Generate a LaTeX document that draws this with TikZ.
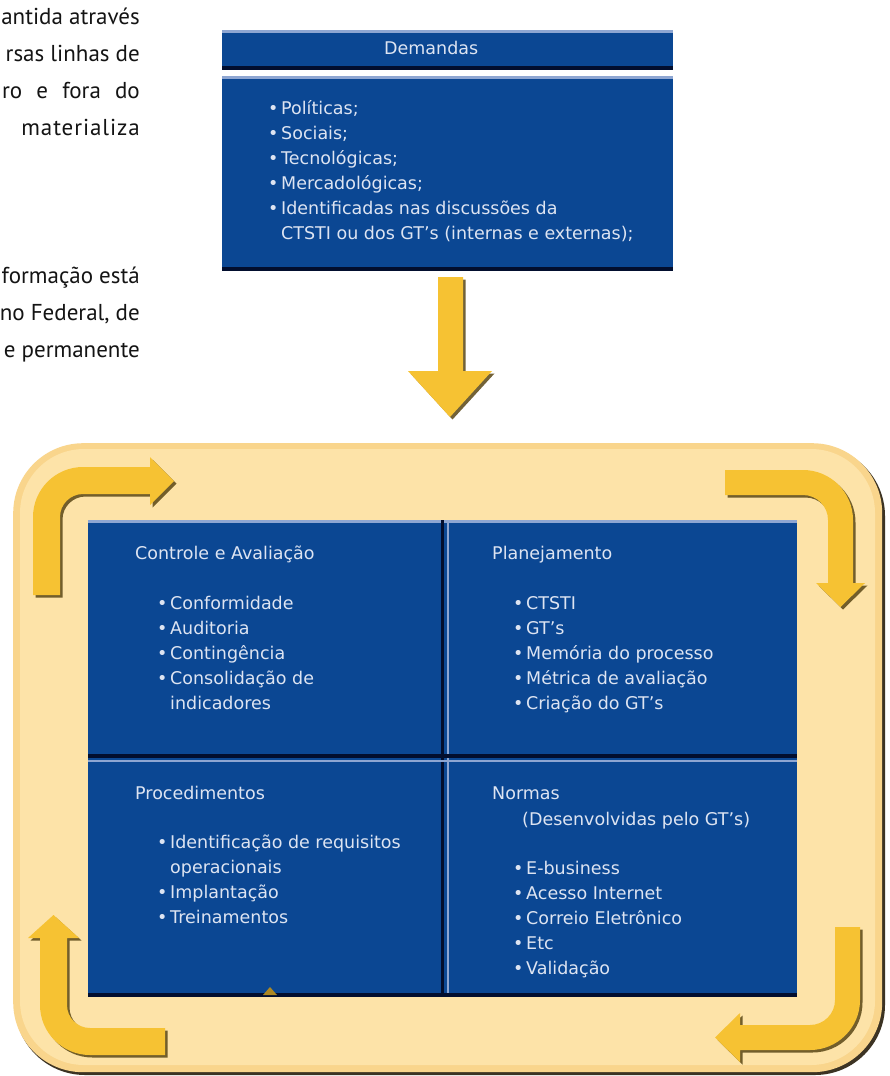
\documentclass[tikz,border=0pt]{standalone}
\usepackage{fontspec}
\setmainfont{DejaVu Sans}
\newfontfamily\leftfont{PT Sans}
\usetikzlibrary{calc}
\definecolor{boxblue}{HTML}{0B4793}
\definecolor{boxhi}{HTML}{8EA6D2}
\definecolor{boxlo}{HTML}{020E2E}
\definecolor{boxtxt}{HTML}{DDE4F2}
\definecolor{arrowyel}{HTML}{F6C233}
\definecolor{arrowdark}{HTML}{5A4716}
\definecolor{framec}{HTML}{FDE3A8}
\definecolor{frameedge}{HTML}{F9D58C}
\definecolor{frameshadow}{HTML}{3C3323}
\newcommand\bitem{\makebox[13pt][l]{•}}
\newcommand\arrTL{(33,595) -- (33,517) .. controls (33,489.4) and (55.4,467) .. (83,467) -- (150,467) -- (150,457) -- (174,481) -- (150,505) -- (150,494) -- (83,494) .. controls (70.3,494) and (60,504.3) .. (60,517) -- (60,595) -- cycle}
\newcommand\arrTR{(725,470) -- (803,470) .. controls (830.6,470) and (853,492.4) .. (853,520) -- (853,583) -- (865,583) -- (840.5,607) -- (816,583) -- (828,583) -- (828,520) .. controls (828,506.2) and (816.8,495) .. (803,495) -- (725,495) -- cycle}
\newcommand\arrBR{(860,927) -- (860,1000) .. controls (860,1027.6) and (837.6,1050) .. (810,1050) -- (740,1050) -- (740,1062) -- (715,1037.5) -- (740,1013) -- (740,1025) -- (810,1025) .. controls (823.8,1025) and (835,1013.8) .. (835,1000) -- (835,927) -- cycle}
\newcommand\arrBL{(165,1055) -- (90,1055) .. controls (62.4,1055) and (40,1032.6) .. (40,1005) -- (40,938) -- (28,938) -- (53.5,915) -- (79,938) -- (67,938) -- (67,1005) .. controls (67,1017.7) and (77.3,1028) .. (90,1028) -- (165,1028) -- cycle}
\newcommand\arrDown{(438,277) -- (463,277) -- (463,371) -- (492,371) -- (450,417) -- (408,371) -- (438,371) -- cycle}
\begin{document}
\begin{tikzpicture}[x=1pt,y=-1pt,
  bluebox/.style={fill=boxblue, inner sep=0pt, draw=none, anchor=north west},
  hiline/.style={draw=boxhi, line width=2.5pt},
  loline/.style={draw=boxlo, line width=4pt},
  boxtext/.style={text=boxtxt, font=\fontsize{17.5}{25}\selectfont, inner sep=0pt, align=left},
  lefttext/.style={text=black!92, font=\leftfont\fontsize{23}{27}\selectfont, inner sep=0pt, anchor=base east},
  arrowc/.style={fill=arrowyel},
  arrowsh/.style={fill=arrowdark, fill opacity=0.85, shift={(2.5,2.5)}}]
\useasboundingbox (0,0) rectangle (889,1076);
\clip (0,0) rectangle (889,1076);
\fill[white] (0,0) rectangle (889,1076);

% left paragraph (cut off at the left edge, as in the page it comes from)
\node[lefttext] (p1) at (140,24) {antida através};
\node[lefttext] (p2) at (140,61) {rsas linhas de};
\node[lefttext] (p3) at (140,98) {ro\hspace{0.35em} e\hspace{0.35em} fora\hspace{0.35em} do};
\node[lefttext] (p4) at (140,135) {{\addfontfeature{LetterSpace=4}materializa}};
\node[lefttext] (p5) at (140,283) {formação está};
\node[lefttext] (p6) at (140,320) {no Federal, de};
\node[lefttext] (p7) at (140,357) {e permanente};

% Demandas
\node[bluebox, minimum width=451pt, minimum height=40pt] (demhead) at (222,30) {};
\draw[hiline] ($(demhead.north west)+(0,1.25)$) -- ($(demhead.north east)+(0,1.25)$);
\draw[loline] ($(demhead.south west)+(0,-2)$) -- ($(demhead.south east)+(0,-2)$);
\node[bluebox, minimum width=451pt, minimum height=195pt] (dembody) at (222,76) {};
\draw[hiline] ($(dembody.north west)+(0,1.25)$) -- ($(dembody.north east)+(0,1.25)$);
\draw[loline] ($(dembody.south west)+(0,-2)$) -- ($(dembody.south east)+(0,-2)$);
\node[boxtext, anchor=base west] (demtitle) at (384,54) {Demandas};
\node[boxtext, anchor=north west] (demlist) at (268,96.5) {\strut\bitem Políticas;\\ \bitem Sociais;\\ \bitem Tecnológicas;\\ \bitem Mercadológicas;\\ \bitem Identificadas nas discussões da\\ \hspace*{13pt}CTSTI ou dos GT’s (internas e externas);};

% down arrow
\fill[arrowsh] \arrDown;
\fill[arrowc] \arrDown;

% frame
\fill[frameshadow, rounded corners=70pt] (15,446) rectangle (885,1075);
\node[fill=frameedge, rounded corners=70pt, anchor=north west, minimum width=869pt, minimum height=629pt, inner sep=0pt] (frame) at (13,443) {};
\fill[framec, rounded corners=64pt] (20,449) rectangle (875,1065);

% cycle arrows
\fill[arrowsh] \arrTL; \fill[arrowc] \arrTL;
\fill[arrowsh] \arrTR; \fill[arrowc] \arrTR;
\fill[arrowsh] \arrBR; \fill[arrowc] \arrBR;
\fill[arrowsh] \arrBL; \fill[arrowc] \arrBL;

% quad box
\node[bluebox, minimum width=709pt, minimum height=477pt] (cycle) at (88,520) {};
\draw[hiline] ($(cycle.north west)+(0,1.25)$) -- ($(cycle.north east)+(0,1.25)$);
\draw[boxhi, line width=2pt] (447.5,522) -- (447.5,995);
\draw[boxlo, line width=3.5pt] (442.5,520) -- (442.5,997);
\draw[boxhi, line width=2.5pt] (88,761) -- (797,761);
\draw[boxlo, line width=4pt] (88,755.5) -- (797,755.5);
\draw[loline] ($(cycle.south west)+(0,-2)$) -- ($(cycle.south east)+(0,-2)$);
\fill[arrowyel!70!black] (263,995) -- (270,987) -- (277,995) -- cycle;

% quadrant texts
\node[boxtext, anchor=base west] (ctitle) at (135,559) {Controle e Avaliação};
\node[boxtext, anchor=north west] (clist) at (157,591.5) {\strut\bitem Conformidade\\ \bitem Auditoria\\ \bitem Contingência\\ \bitem Consolidação de\\ \hspace*{13pt}indicadores};
\node[boxtext, anchor=base west] (ptitle) at (492,559) {Planejamento};
\node[boxtext, anchor=north west] (plist) at (513,591.5) {\strut\bitem CTSTI\\ \bitem GT’s\\ \bitem Memória do processo\\ \bitem Métrica de avaliação\\ \bitem Criação do GT’s};
\node[boxtext, anchor=base west] (prtitle) at (135,799) {Procedimentos};
\node[boxtext, anchor=north west] (prlist) at (157,830.5) {\strut\bitem Identificação de requisitos\\ \hspace*{13pt}operacionais\\ \bitem Implantação\\ \bitem Treinamentos};
\node[boxtext, anchor=base west] (ntitle) at (492,799) {Normas};
\node[boxtext, anchor=base west] (nsub) at (522,825) {(Desenvolvidas pelo GT’s)};
\node[boxtext, anchor=north west] (nlist) at (513,856.5) {\strut\bitem E-business\\ \bitem Acesso Internet\\ \bitem Correio Eletrônico\\ \bitem Etc\\ \bitem Validação};
\end{tikzpicture}
\end{document}
